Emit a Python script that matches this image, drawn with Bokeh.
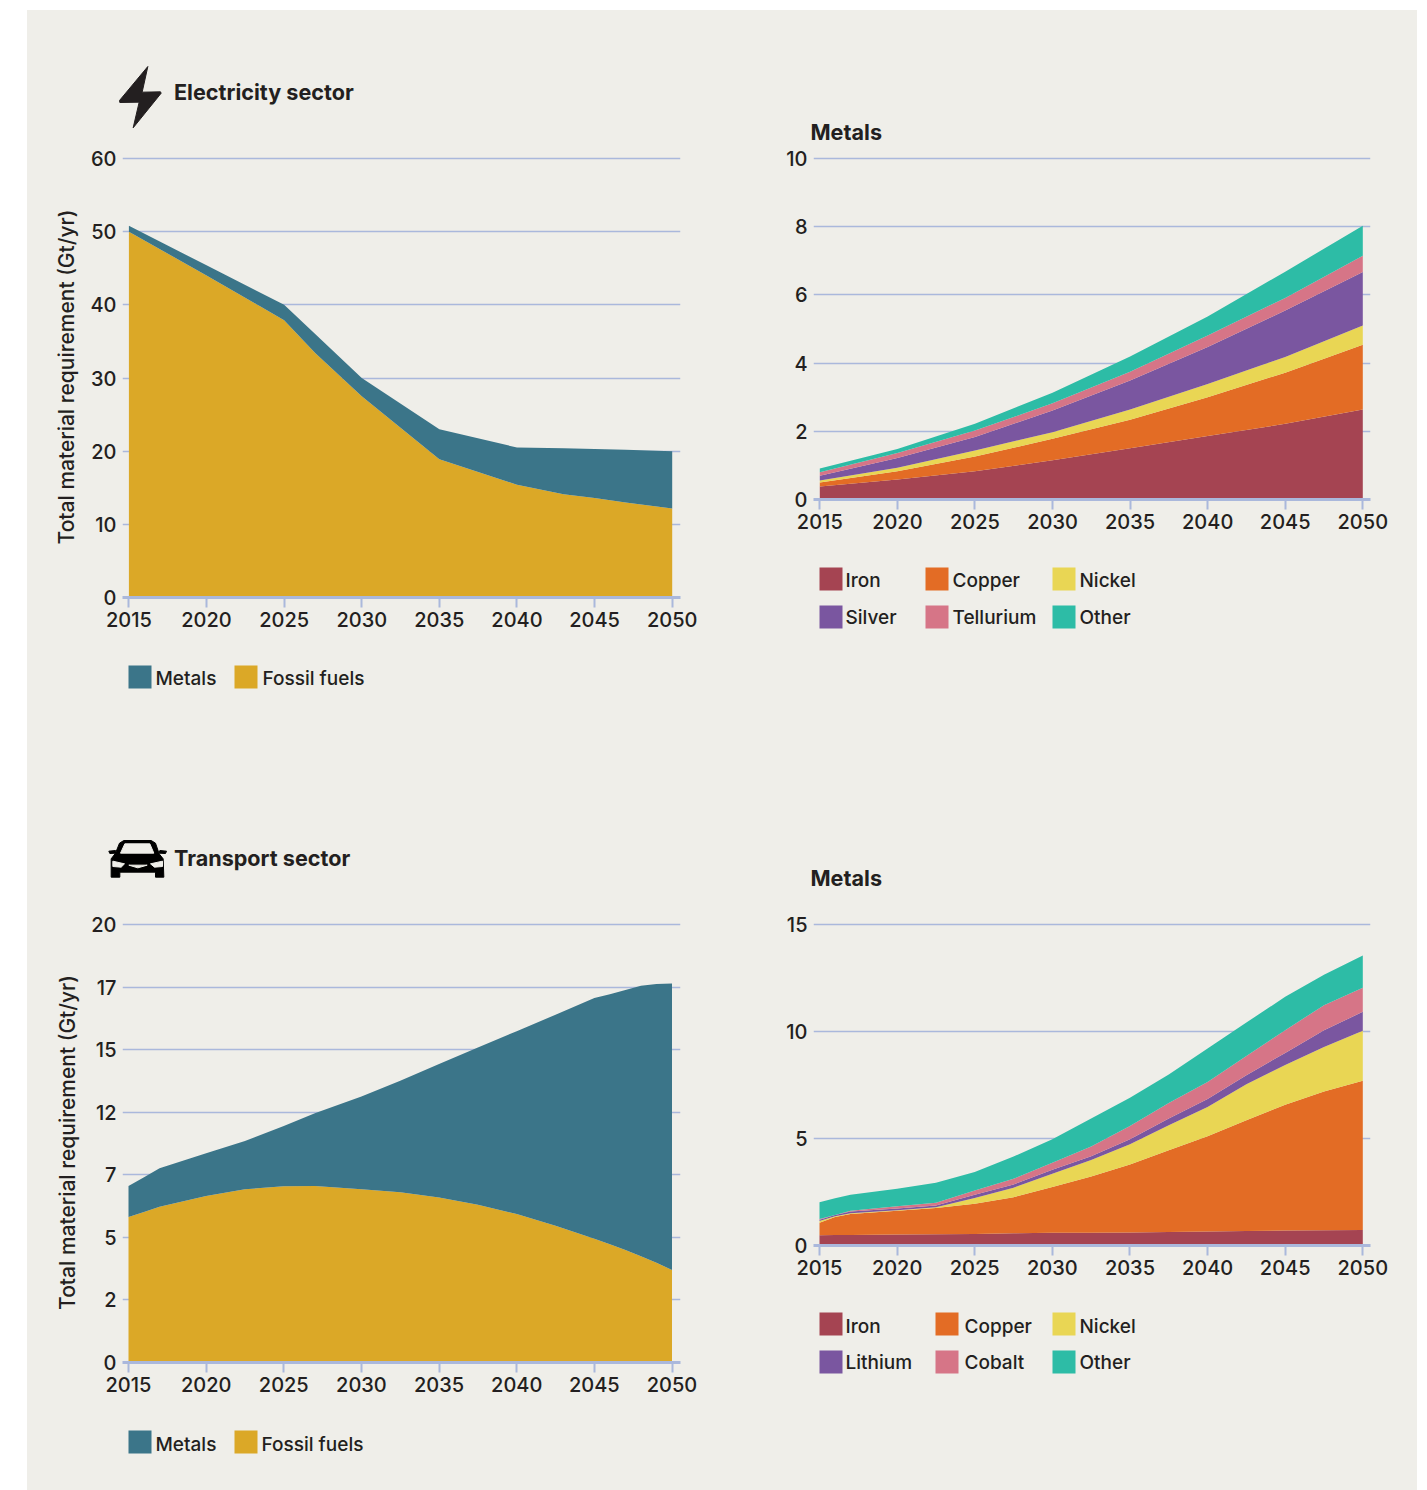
from bokeh.core.properties import value
from bokeh.embed import file_html
from bokeh.resources import INLINE
from bokeh.plotting import figure
from bokeh.layouts import column, row
from bokeh.models import ColumnDataSource, FixedTicker, Range1d, Spacer

# ---------- data ----------
elec_years = [2015, 2020, 2025, 2027, 2030, 2035, 2040, 2043, 2045, 2047, 2050]
elec_fossil = [50.0, 44.0, 37.9, 33.4, 27.5, 18.9, 15.4, 14.1, 13.6, 13.0, 12.15]
elec_metals = [0.8, 1.4, 2.1, 2.6, 2.5, 4.1, 5.1, 6.3, 6.7, 7.2, 7.85]

elec_m_years = [2015, 2020, 2025, 2030, 2035, 2040, 2045, 2050]
elec_iron = [.38, .59, .83, 1.15, 1.5, 1.86, 2.22, 2.64]
elec_copper = [.12, .24, .43, .63, .84, 1.14, 1.50, 1.90]
elec_nickel = [.06, .10, .18, .19, .30, .39, .46, .56]
elec_silver = [.14, .29, .39, .64, .85, 1.08, 1.36, 1.57]
elec_tellurium = [.10, .14, .19, .21, .26, .34, .37, .48]
elec_other = [.11, .12, .20, .31, .44, .56, .77, .88]

trans_years = [2015, 2016, 2017, 2020, 2022.5, 2025, 2027, 2030, 2032.5, 2035, 2037.5, 2040, 2042.5, 2045, 2046, 2047, 2048, 2049, 2050]
trans_fossil = [6.64, 6.87, 7.11, 7.6, 7.91, 8.05, 8.06, 7.91, 7.77, 7.53, 7.2, 6.78, 6.25, 5.65, 5.4, 5.14, 4.85, 4.55, 4.22]
trans_metals = [1.42, 1.59, 1.76, 1.95, 2.2, 2.75, 3.32, 4.24, 5.1, 6.1, 7.18, 8.35, 9.63, 10.99, 11.42, 11.87, 12.35, 12.73, 13.09]

trans_m_years = [2015, 2016, 2017, 2020, 2022.5, 2025, 2027.5, 2030, 2032.5, 2035, 2037.5, 2040, 2042.5, 2045, 2047.5, 2050]
trans_iron = [.48, .49, .49, .51, .52, .54, .57, .60, .60, .61, .63, .66, .68, .70, .71, .73]
trans_copper = [.58, .84, .98, 1.11, 1.23, 1.41, 1.69, 2.13, 2.63, 3.18, 3.82, 4.45, 5.17, 5.88, 6.49, 6.97]
trans_nickel = [.08, .04, .04, .03, .04, .27, .44, .62, .77, .94, 1.17, 1.36, 1.68, 1.86, 2.08, 2.33]
trans_lithium = [.06, .05, .08, .08, .08, .15, .15, .19, .17, .23, .31, .38, .43, .56, .78, .89]
trans_cobalt = [.04, .01, .03, .10, .13, .20, .27, .33, .46, .62, .73, .79, .89, 1.06, 1.17, 1.12]
trans_other = [.78, .78, .75, .82, .93, .86, 1.04, 1.09, 1.30, 1.33, 1.33, 1.56, 1.57, 1.56, 1.42, 1.51]

x_ticks = [2015, 2020, 2025, 2030, 2035, 2040, 2045, 2050]
elec_ticks = [0, 10, 20, 30, 40, 50, 60]
elec_m_ticks = [0, 2, 4, 6, 8, 10]
trans_labels = ["0", "2", "5", "7", "12", "15", "17", "20"]
trans_m_ticks = [0, 5, 10, 15]

# ---------- style ----------
PANEL = "#efeee9"
GRID = "#aab8dc"
INK = "#231f20"
FONT = "'Inter Medium', Inter"
BOLD = "Inter"
METALS = "#3b7589"
FOSSIL = "#dba827"
IRON = "#a54452"
COPPER = "#e36c25"
NICKEL = "#e9d654"
PURPLE = "#7a56a0"
PINK = "#d67587"
TEAL = "#2dbca6"
TICK_SIZE = "20px"
LEG_SIZE = "19px"
TITLE_SIZE = "21.6px"


def panel(canvas, frame, x_px, ymax, yticks, ylabel=None, overrides=None):
    """canvas=(left, top, w, h), frame=(left, top, right, bottom): all in page pixels."""
    cl, ct, cw, ch = canvas
    fl, ft, fr, fb = frame
    sx = (x_px[1] - x_px[0]) / 35.0
    xs = 2015 - (x_px[0] - fl) / sx
    xe = 2050 + (fr - x_px[1]) / sx
    head = 2
    p = figure(width=cw, height=ch, output_backend="svg", toolbar_location=None,
               x_range=Range1d(xs, xe), y_range=Range1d(0, ymax * (fb - ft + head) / (fb - ft)),
               min_border_left=fl - cl, min_border_right=cl + cw - fr,
               min_border_top=ft - head - ct, min_border_bottom=ct + ch - fb,
               frame_align=False,
               background_fill_color=None, border_fill_color=None, outline_line_color=None)
    p.xgrid.visible = False
    p.ygrid.grid_line_color = GRID
    p.ygrid.grid_line_width = 1.5
    p.ygrid.ticker = FixedTicker(ticks=yticks)
    p.xaxis.ticker = FixedTicker(ticks=x_ticks)
    p.xaxis.axis_line_color = GRID
    p.xaxis.axis_line_width = 3
    p.xaxis.major_tick_line_color = GRID
    p.xaxis.major_tick_line_width = 2
    p.xaxis.major_tick_in = 0
    p.xaxis.major_tick_out = 10
    p.xaxis.minor_tick_line_color = None
    p.xaxis.major_label_standoff = 4
    p.xaxis.major_label_text_font = FONT
    p.xaxis.major_label_text_font_size = TICK_SIZE
    p.xaxis.major_label_text_color = INK
    p.yaxis.ticker = FixedTicker(ticks=yticks)
    p.yaxis.axis_line_color = None
    p.yaxis.major_tick_line_color = None
    p.yaxis.minor_tick_line_color = None
    p.yaxis.major_tick_in = 0
    p.yaxis.major_tick_out = 0
    p.yaxis.major_label_standoff = 6
    p.yaxis.major_label_text_font = FONT
    p.yaxis.major_label_text_font_size = TICK_SIZE
    p.yaxis.major_label_text_color = INK
    if overrides:
        p.yaxis.major_label_overrides = overrides
    if ylabel:
        p.yaxis.axis_label = ylabel
        p.yaxis.axis_label_text_font = FONT
        p.yaxis.axis_label_text_font_size = "21px"
        p.yaxis.axis_label_text_font_style = "normal"
        p.yaxis.axis_label_text_color = INK
        p.yaxis.axis_label_standoff = 8
    return p


def strip(left, top, w, h):
    """A figure with no axes whose data space is simply page pixels."""
    p = figure(width=w, height=h, output_backend="svg", toolbar_location=None,
               x_range=Range1d(left, left + w), y_range=Range1d(top + h, top),
               x_axis_location=None, y_axis_location=None,
               min_border_left=0, min_border_right=0, min_border_top=0, min_border_bottom=0,
               frame_align=False,
               background_fill_color=None, border_fill_color=None, outline_line_color=None)
    p.grid.visible = False
    return p


def stack(p, years, names, series, colors):
    data = {"year": years}
    data.update({n: s for n, s in zip(names, series)})
    p.varea_stack(stackers=names, x="year", color=colors, source=ColumnDataSource(data))


def text(p, x, y, s, size=LEG_SIZE, style="normal"):
    p.text(x=[x], y=[y], text=[s], text_font=value(BOLD if style == "bold" else FONT),
           text_font_size=value(size), text_font_style=style, text_color=INK,
           text_baseline="middle", text_align="left")


def legend(p, items, tw=23, th=23):
    for sx, tx, cy, ty, color, s in items:
        p.quad(left=[sx], right=[sx + tw], top=[cy - th / 2], bottom=[cy + th / 2],
               fill_color=color, line_color=None)
        text(p, tx, ty, s)


def icon(p, pts, color):
    p.patch(x=[a for a, _ in pts], y=[b for _, b in pts], fill_color=color,
            line_color=color, line_width=1)


YLABEL = "Total material requirement (Gt/yr)"

# ---------- electricity, fuels ----------
ha = strip(27, 10, 693, 136)
text(ha, 173.5, 91.5, "Electricity sector", TITLE_SIZE, "bold")
zoom1 = [(322, 48), (237, 150), (238, 156), (296, 155), (278, 232), (362, 128), (360, 124), (305, 125)]
icon(ha, [(40 + a / 3, 50 + b / 3) for a, b in zoom1], INK)
pa = panel((27, 146, 693, 504), (122, 158, 680, 597), (128.4, 671.7), 60, elec_ticks, YLABEL)
stack(pa, elec_years, ["fossil", "metals"], [elec_fossil, elec_metals], [FOSSIL, METALS])
la = strip(27, 650, 693, 90)
legend(la, [(128, 155, 676.5, 678, METALS, "Metals"), (234, 262, 676.5, 678, FOSSIL, "Fossil fuels")])

# ---------- electricity, metals ----------
hb = strip(720, 10, 697, 136)
text(hb, 810, 131.5, "Metals", TITLE_SIZE, "bold")
pb = panel((720, 146, 697, 406), (813, 158, 1370, 499), (819.3, 1362.3), 10, elec_m_ticks)
stack(pb, elec_m_years, ["iron", "copper", "nickel", "silver", "tellurium", "other"],
      [elec_iron, elec_copper, elec_nickel, elec_silver, elec_tellurium, elec_other],
      [IRON, COPPER, NICKEL, PURPLE, PINK, TEAL])
lb = strip(720, 552, 697, 188)
legend(lb, [(819, 845, 578.5, 580, IRON, "Iron"), (925, 952, 578.5, 580, COPPER, "Copper"),
            (1052, 1079, 578.5, 580, NICKEL, "Nickel"), (819, 845, 616.5, 617, PURPLE, "Silver"),
            (925, 952, 616.5, 617, PINK, "Tellurium"), (1052, 1079, 616.5, 617, TEAL, "Other")])

# ---------- transport, fuels ----------
hc = strip(27, 740, 693, 172)
text(hc, 173.5, 857.5, "Transport sector", TITLE_SIZE, "bold")
car = lambda pts: [(100 + a / 3, 830 + b / 3) for a, b in pts]
icon(hc, car([(70, 30), (152, 30), (165, 38), (176, 70), (188, 85), (190, 140), (165, 140), (165, 125),
              (58, 125), (58, 140), (32, 140), (32, 85), (45, 68), (57, 38)]), "#000000")
icon(hc, car([(25, 62), (45, 60), (47, 68), (28, 69)]), "#000000")
icon(hc, car([(178, 60), (198, 62), (195, 69), (176, 68)]), "#000000")
icon(hc, car([(73, 40), (148, 40), (160, 68), (60, 68)]), PANEL)
icon(hc, car([(37, 92), (72, 100), (62, 110), (37, 108)]), PANEL)
icon(hc, car([(186, 92), (150, 100), (162, 110), (186, 108)]), PANEL)
icon(hc, car([(85, 104), (140, 104), (112, 112)]), PANEL)
tp = [i * 20 / 7 for i in range(8)]
pc = panel((27, 912, 693, 503), (122, 924, 680, 1362), (128, 671.5), 20, tp, YLABEL,
           {t: s for t, s in zip(tp, trans_labels)})
stack(pc, trans_years, ["fossil", "metals"], [trans_fossil, trans_metals], [FOSSIL, METALS])
lc = strip(27, 1415, 693, 75)
legend(lc, [(128, 155, 1441.5, 1444, METALS, "Metals"), (234, 261, 1441.5, 1444, FOSSIL, "Fossil fuels")])

# ---------- transport, metals ----------
hd = strip(720, 740, 697, 172)
text(hd, 810, 877.5, "Metals", TITLE_SIZE, "bold")
pd_ = panel((720, 912, 697, 386), (813, 924, 1370, 1245), (819, 1362.3), 15, trans_m_ticks)
stack(pd_, trans_m_years, ["iron", "copper", "nickel", "lithium", "cobalt", "other"],
      [trans_iron, trans_copper, trans_nickel, trans_lithium, trans_cobalt, trans_other],
      [IRON, COPPER, NICKEL, PURPLE, PINK, TEAL])
ld = strip(720, 1298, 697, 192)
legend(ld, [(819, 845, 1323.5, 1326, IRON, "Iron"), (935, 964, 1323.5, 1326, COPPER, "Copper"),
            (1052, 1079, 1323.5, 1326, NICKEL, "Nickel"), (819, 845, 1361.5, 1362, PURPLE, "Lithium"),
            (935, 964, 1361.5, 1362, PINK, "Cobalt"), (1052, 1079, 1361.5, 1362, TEAL, "Other")])

inner = column(row(column(ha, pa, la), column(hb, pb, lb)),
               row(column(hc, pc, lc), column(hd, pd_, ld)),
               styles={"background-color": PANEL})
page = column(Spacer(width=10, height=10), row(Spacer(width=27, height=10), inner))

open("out.html", "w").write(file_html(page, INLINE))
